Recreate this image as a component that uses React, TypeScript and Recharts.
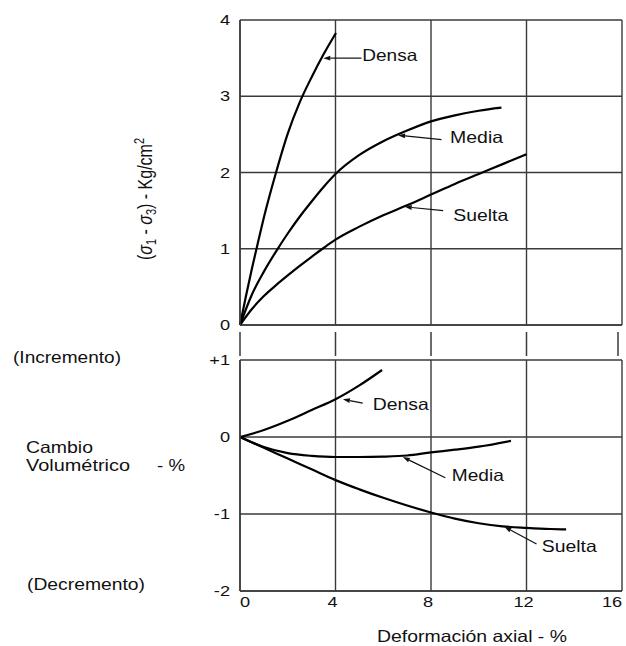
import React from 'react';
import {
    LineChart,
    Line,
    XAxis,
    YAxis,
    CartesianGrid,
    ReferenceLine,
    ReferenceDot,
} from 'recharts';

const FONT = '"Liberation Sans", Arial, Helvetica, sans-serif';
const INK = '#111';
const GRID = '#3a3a3a';

// eje común: deformación axial (%)
const strainTicks = [0, 4, 8, 12, 16];
const stressTicks = [0, 1, 2, 3, 4];
const volTicks = [-2, -1, 0, 1];

// (σ1 - σ3) en Kg/cm2 contra deformación
const densaStrain = [0, 0.25, 0.5, 0.75, 1, 1.5, 2, 2.5, 3, 3.5, 4.02];
const densaStress = [0, 0.38, 0.74, 1.08, 1.41, 1.99, 2.51, 2.92, 3.25, 3.55, 3.83];
const mediaStrain = [0, 0.5, 1, 1.5, 2, 2.5, 3, 3.5, 4, 5, 6, 7, 8, 9, 10, 10.95];
const mediaStress = [0, 0.4, 0.7, 0.96, 1.2, 1.42, 1.62, 1.81, 1.98, 2.23, 2.41, 2.55, 2.67, 2.75, 2.81, 2.85];
const sueltaStrain = [0, 0.5, 1, 1.5, 2, 2.5, 3, 3.5, 4, 5, 6, 7, 8, 9, 10, 11, 12];
const sueltaStress = [0, 0.21, 0.38, 0.52, 0.65, 0.775, 0.895, 1.01, 1.12, 1.29, 1.44, 1.57, 1.71, 1.85, 1.98, 2.11, 2.24];

// cambio volumétrico (%) contra deformación
const densaVolStrain = [0, 1, 2, 3, 4, 5, 5.95];
const densaVol = [0, 0.09, 0.21, 0.35, 0.49, 0.67, 0.87];
const mediaVolStrain = [0, 1, 2, 3, 4, 5, 6, 7, 8, 9, 10, 11.35];
const mediaVol = [0, -0.13, -0.21, -0.245, -0.26, -0.26, -0.255, -0.24, -0.2, -0.165, -0.125, -0.05];
const sueltaVolStrain = [0, 1, 2, 3, 4, 5, 6, 7, 8, 9, 10, 11, 12, 13, 13.66];
const sueltaVol = [0, -0.14, -0.28, -0.42, -0.56, -0.68, -0.79, -0.89, -0.98, -1.06, -1.12, -1.16, -1.18, -1.195, -1.2];

// etiquetas con flecha: punta sobre la curva, cola, inicio del texto (en unidades de los ejes)
const stressNotes = [
    { name: 'Densa', tip: [3.49, 3.5], tail: [5.09, 3.5], text: [5.12, 3.46], w: 55 },
    { name: 'Media', tip: [6.62, 2.49], tail: [8.44, 2.43], text: [8.8, 2.39], w: 53 },
    { name: 'Suelta', tip: [6.9, 1.55], tail: [8.51, 1.5], text: [8.93, 1.37], w: 55 },
];
const volNotes = [
    { name: 'Densa', tip: [4.31, 0.49], tail: [5.14, 0.44], text: [5.56, 0.35], w: 56 },
    { name: 'Media', tip: [6.82, -0.26], tail: [8.6, -0.53], text: [8.87, -0.574], w: 52 },
    { name: 'Suelta', tip: [11.07, -1.165], tail: [12.42, -1.39], text: [12.64, -1.49], w: 55 },
];

const zip = (xs: number[], ys: number[]) => xs.map((x, i) => ({ x, y: ys[i] }));

const StretchText = ({ x, y, w, size = 16.5, children }: any) => (
    <text
        x={x}
        y={y}
        fontSize={size}
        fontFamily={FONT}
        fill={INK}
        textLength={w}
        lengthAdjust="spacingAndGlyphs"
    >
        {children}
    </text>
);

const makeYTick = (plus: boolean) => (p: any) => {
    const v = p.payload.value;
    const label = plus && v > 0 ? `+${v}` : `${v}`;
    return (
        <g transform={`translate(${p.x},${p.y}) scale(1.3,1)`}>
            <text x={0} y={5} textAnchor="end" fontSize={14} fontFamily={FONT} fill={INK}>
                {label}
            </text>
        </g>
    );
};

// los números del eje x quedan algo corridos respecto de la cuadrícula
const xTickShift = (v: number) => (v === 0 ? 5 : v === 16 ? -6 : -3);

const XTick = (p: any) => (
    <g transform={`translate(${p.x + xTickShift(p.payload.value)},${p.y}) scale(1.3,1)`}>
        <text x={0} y={16} textAnchor="middle" fontSize={14} fontFamily={FONT} fill={INK}>
            {p.payload.value}
        </text>
    </g>
);

// marcas cortas entre los dos paneles
const GapTick = (p: any) => (
    <line x1={p.x} x2={p.x} y1={p.y + 7} y2={p.y + 31} stroke={GRID} strokeWidth={1.5} />
);

const arrowShape = (p: any) => {
    const { x1, y1, x2, y2 } = p;
    const ang = Math.atan2(y1 - y2, x1 - x2);
    const len = 7;
    const half = 2.4;
    const bx = x1 - len * Math.cos(ang);
    const by = y1 - len * Math.sin(ang);
    const nx = -Math.sin(ang) * half;
    const ny = Math.cos(ang) * half;
    return (
        <g>
            <line x1={bx} y1={by} x2={x2} y2={y2} stroke={INK} strokeWidth={1.2} />
            <polygon points={`${x1},${y1} ${bx + nx},${by + ny} ${bx - nx},${by - ny}`} fill={INK} />
        </g>
    );
};

const renderNotes = (notes: typeof stressNotes) =>
    notes.flatMap((n) => [
        <ReferenceLine
            key={`l-${n.name}`}
            segment={[
                { x: n.tip[0], y: n.tip[1] },
                { x: n.tail[0], y: n.tail[1] },
            ]}
            ifOverflow="visible"
            shape={arrowShape}
        />,
        <ReferenceDot
            key={`t-${n.name}`}
            x={n.text[0]}
            y={n.text[1]}
            r={0}
            ifOverflow="visible"
            shape={(p: any) => <StretchText x={p.cx} y={p.cy} w={n.w}>{n.name}</StretchText>}
        />,
    ]);

const curve = (data: any[], key: string) => (
    <Line
        key={key}
        data={data}
        dataKey="y"
        type="monotone"
        stroke="#000"
        strokeWidth={2.2}
        dot={false}
        activeDot={false}
        isAnimationActive={false}
    />
);

export default function App() {
    return (
        <div style={{ position: 'absolute', left: 0, top: 0, width: 626, height: 646, background: '#fff' }}>
            <div style={{ position: 'absolute', left: 0, top: 0 }}>
                <LineChart width={626} height={360} margin={{ top: 20, right: 4, bottom: 5, left: 200 }}>
                    <CartesianGrid stroke={GRID} strokeWidth={1.4} />
                    <XAxis
                        type="number"
                        dataKey="x"
                        domain={[0, 16]}
                        ticks={strainTicks}
                        height={30}
                        axisLine={{ stroke: GRID, strokeWidth: 1.5 }}
                        tickLine={false}
                        tickSize={0}
                        tickMargin={0}
                        tick={GapTick}
                        allowDuplicatedCategory={false}
                    />
                    <YAxis
                        type="number"
                        domain={[0, 4]}
                        ticks={stressTicks}
                        width={40}
                        axisLine={{ stroke: GRID, strokeWidth: 1.5 }}
                        tickLine={false}
                        tickSize={0}
                        tickMargin={10}
                        tick={makeYTick(false)}
                    />
                    {curve(zip(densaStrain, densaStress), 'densa')}
                    {curve(zip(mediaStrain, mediaStress), 'media')}
                    {curve(zip(sueltaStrain, sueltaStress), 'suelta')}
                    {renderNotes(stressNotes)}
                </LineChart>
            </div>
            <div style={{ position: 'absolute', left: 0, top: 340 }}>
                <LineChart width={626} height={306} margin={{ top: 20, right: 4, bottom: 15, left: 200 }}>
                    <CartesianGrid stroke={GRID} strokeWidth={1.4} />
                    <XAxis
                        type="number"
                        dataKey="x"
                        domain={[0, 16]}
                        ticks={strainTicks}
                        height={40}
                        axisLine={{ stroke: GRID, strokeWidth: 1.5 }}
                        tickLine={false}
                        tickSize={0}
                        tickMargin={0}
                        tick={XTick}
                        allowDuplicatedCategory={false}
                    />
                    <YAxis
                        type="number"
                        domain={[-2, 1]}
                        ticks={volTicks}
                        width={40}
                        axisLine={{ stroke: GRID, strokeWidth: 1.5 }}
                        tickLine={false}
                        tickSize={0}
                        tickMargin={10}
                        tick={makeYTick(true)}
                    />
                    {curve(zip(densaVolStrain, densaVol), 'densa')}
                    {curve(zip(mediaVolStrain, mediaVol), 'media')}
                    {curve(zip(sueltaVolStrain, sueltaVol), 'suelta')}
                    {renderNotes(volNotes)}
                </LineChart>
            </div>
            <svg
                width={626}
                height={646}
                style={{ position: 'absolute', left: 0, top: 0, pointerEvents: 'none' }}
            >
                <text
                    transform="translate(152,199) rotate(-90) scale(1,1.3)"
                    textAnchor="middle"
                    fontSize={16}
                    fontFamily={FONT}
                    fill={INK}
                >
                    (<tspan fontStyle="italic">σ</tspan>
                    <tspan fontSize={11} dy={3}>1</tspan>
                    <tspan dy={-3}> - </tspan>
                    <tspan fontStyle="italic">σ</tspan>
                    <tspan fontSize={11} dy={3}>3</tspan>
                    <tspan dy={-3}>) - Kg/cm</tspan>
                    <tspan fontSize={11} dy={-6}>2</tspan>
                </text>
                <StretchText x={13} y={363} w={108}>(Incremento)</StretchText>
                <StretchText x={26} y={453} w={67}>Cambio</StretchText>
                <StretchText x={26} y={471} w={104}>Volumétrico</StretchText>
                <StretchText x={157} y={471} w={28}>- %</StretchText>
                <StretchText x={27} y={590} w={118}>(Decremento)</StretchText>
                <StretchText x={377} y={642} w={190}>Deformación axial - %</StretchText>
            </svg>
        </div>
    );
}
